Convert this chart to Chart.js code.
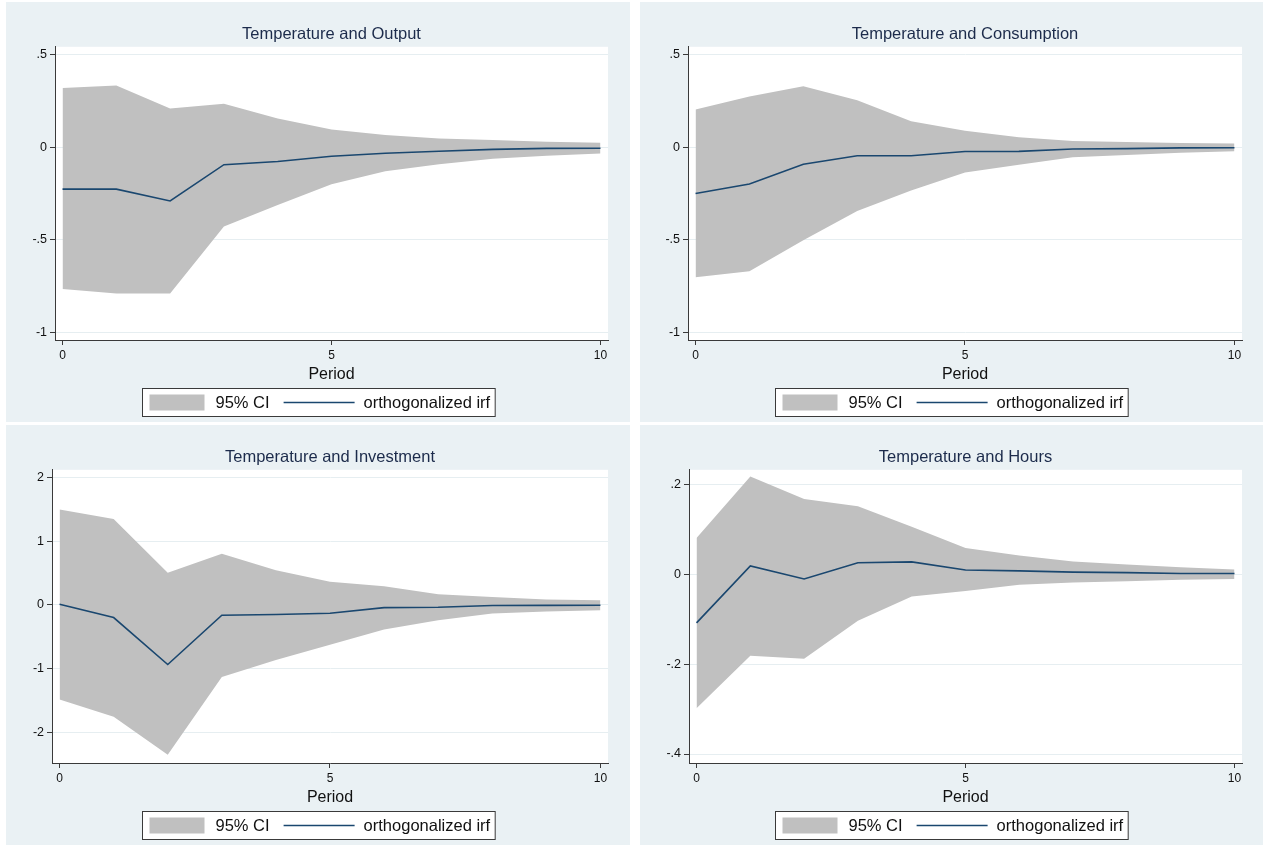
<!DOCTYPE html>
<html>
<head>
<meta charset="utf-8">
<script src="https://cdn.jsdelivr.net/npm/chart.js@4.4.0/dist/chart.umd.min.js"></script>
<style>
  body { margin: 0; background: #fff; width: 1270px; height: 846px; position: relative; overflow: hidden; }
  canvas { position: absolute; }
</style>
</head>
<body>
<canvas id="output" width="624" height="420" style="left:6px;top:2px"></canvas>
<canvas id="consumption" width="623" height="420" style="left:640px;top:2px"></canvas>
<canvas id="investment" width="624" height="420" style="left:6px;top:425px"></canvas>
<canvas id="hours" width="623" height="420" style="left:640px;top:425px"></canvas>
<script>
// Impulse responses of temperature shock, periods 0..10
const periods = [0, 1, 2, 3, 4, 5, 6, 7, 8, 9, 10];

const outputIrf   = [-0.226, -0.226, -0.29, -0.094, -0.077, -0.048, -0.032, -0.021, -0.011, -0.006, -0.005];
const outputUpper = [0.32, 0.334, 0.209, 0.236, 0.155, 0.096, 0.066, 0.048, 0.04, 0.03, 0.025];
const outputLower = [-0.766, -0.79, -0.79, -0.428, -0.312, -0.2, -0.13, -0.091, -0.062, -0.046, -0.034];

const consumptionIrf   = [-0.25, -0.198, -0.091, -0.046, -0.046, -0.023, -0.022, -0.009, -0.007, -0.003, -0.002];
const consumptionUpper = [0.204, 0.275, 0.33, 0.254, 0.141, 0.089, 0.054, 0.034, 0.029, 0.023, 0.02];
const consumptionLower = [-0.702, -0.67, -0.502, -0.344, -0.234, -0.136, -0.094, -0.054, -0.041, -0.03, -0.021];

const investmentIrf   = [0.01, -0.197, -0.933, -0.161, -0.15, -0.13, -0.041, -0.036, -0.008, -0.006, -0.005];
const investmentUpper = [1.497, 1.347, 0.503, 0.803, 0.544, 0.363, 0.295, 0.166, 0.124, 0.085, 0.073];
const investmentLower = [-1.482, -1.751, -2.347, -1.13, -0.86, -0.622, -0.383, -0.238, -0.135, -0.104, -0.083];

const hoursIrf   = [-0.108, 0.019, -0.01, 0.026, 0.028, 0.01, 0.008, 0.005, 0.004, 0.002, 0.002];
const hoursUpper = [0.081, 0.218, 0.168, 0.152, 0.106, 0.059, 0.042, 0.029, 0.022, 0.016, 0.011];
const hoursLower = [-0.298, -0.181, -0.188, -0.103, -0.049, -0.037, -0.023, -0.018, -0.015, -0.012, -0.01];

// Tick labels
const xTicks = [0, 5, 10];
const yTicksSmall = [0.5, 0, -0.5, -1];
const yTicksInvestment = [2, 1, 0, -1, -2];
const yTicksHours = [0.2, 0, -0.2, -0.4];

const xTitle = 'Period';
const legendLabels = ['95% CI', 'orthogonalized irf'];

const FONT = "'Liberation Sans', Arial, sans-serif";
const PANEL_BG = '#eaf1f4';
const CI_COLOR = '#c0c0c0';
const IRF_COLOR = '#1a476f';
const AXIS_COLOR = '#3a3a3a';
const GRID_COLOR = '#e6eef1';
const AREA_BOTTOM = 338;

// Stata-style labels: .5, -.5, 0
function stataNum(v) {
  if (v === 0) return '0';
  const s = String(Math.abs(Math.round(v * 1000) / 1000)).replace(/^0\./, '.');
  return (v < 0 ? '-' : '') + s;
}

function toPoints(values) {
  return periods.map((p, i) => ({ x: p, y: values[i] }));
}

// Panel and plot-region background
const panelBackground = {
  id: 'panelBackground',
  beforeDraw(chart) {
    const { ctx, chartArea: a } = chart;
    ctx.save();
    ctx.fillStyle = PANEL_BG;
    ctx.fillRect(0, 0, chart.width, chart.height);
    ctx.fillStyle = '#fff';
    ctx.fillRect(a.left, a.top, a.right - a.left, a.bottom - a.top);
    ctx.restore();
  }
};

// Boxed legend under the axis title, centred on the panel
const stataLegend = {
  id: 'stataLegend',
  afterDraw(chart) {
    const ctx = chart.ctx;
    ctx.save();
    ctx.font = '16.5px ' + FONT;
    const w1 = ctx.measureText(legendLabels[0]).width;
    const w2 = ctx.measureText(legendLabels[1]).width;
    const sw = 55, ln = 71;
    const bw = 7 + sw + 11 + w1 + 14 + ln + 9 + w2 + 5;
    const bx = Math.round((chart.width - bw) / 2) + 0.5;
    const by = 386.5, bh = 28;
    ctx.fillStyle = '#fff';
    ctx.fillRect(bx, by, bw, bh);
    ctx.strokeStyle = AXIS_COLOR;
    ctx.lineWidth = 1;
    ctx.strokeRect(bx, by, bw, bh);
    let x = bx + 7;
    ctx.fillStyle = CI_COLOR;
    ctx.fillRect(x, by + 6, sw, bh - 12);
    x += sw + 11;
    ctx.fillStyle = '#111';
    ctx.textBaseline = 'middle';
    ctx.fillText(legendLabels[0], x, by + bh / 2 + 1);
    x += w1 + 14;
    ctx.strokeStyle = IRF_COLOR;
    ctx.lineWidth = 1.5;
    ctx.beginPath();
    ctx.moveTo(x, by + bh / 2);
    ctx.lineTo(x + ln, by + bh / 2);
    ctx.stroke();
    x += ln + 9;
    ctx.fillText(legendLabels[1], x, by + bh / 2 + 1);
    ctx.restore();
  }
};

function createIrfChart(id, title, irf, upper, lower, yTicks, yMin, yMax, areaLeft, areaRight) {
  const canvas = document.getElementById(id);
  return new Chart(canvas.getContext('2d'), {
    type: 'line',
    data: {
      datasets: [
        {
          label: 'upper',
          data: toPoints(upper),
          borderWidth: 0,
          pointRadius: 0,
          backgroundColor: CI_COLOR,
          fill: '+1',
          order: 2
        },
        {
          label: 'lower',
          data: toPoints(lower),
          borderWidth: 0,
          pointRadius: 0,
          backgroundColor: CI_COLOR,
          fill: false,
          order: 2
        },
        {
          label: 'irf',
          data: toPoints(irf),
          borderColor: IRF_COLOR,
          borderWidth: 1.6,
          pointRadius: 0,
          tension: 0,
          fill: false,
          order: 0
        }
      ]
    },
    options: {
      responsive: false,
      animation: false,
      layout: { padding: { left: 0, top: 0, bottom: 0, right: canvas.width - areaRight } },
      plugins: {
        legend: { display: false },
        tooltip: { enabled: false },
        title: {
          display: true,
          text: title,
          fullSize: false,
          color: '#1c2b4b',
          font: { family: FONT, size: 16.5, weight: 'normal' },
          padding: { top: 23, bottom: 2 }
        }
      },
      scales: {
        x: {
          type: 'linear',
          min: -0.14,
          max: 10.14,
          afterBuildTicks: s => { s.ticks = xTicks.map(v => ({ value: v })); },
          afterFit: s => { s.height = canvas.height - AREA_BOTTOM; },
          grid: { color: 'rgba(0,0,0,0)', tickColor: AXIS_COLOR, tickLength: 5 },
          border: { color: AXIS_COLOR, width: 1 },
          ticks: { padding: 3, color: '#111', maxRotation: 0, font: { family: FONT, size: 12 }, callback: v => stataNum(v) },
          title: {
            display: true,
            text: xTitle,
            color: '#111',
            font: { family: FONT, size: 16 },
            padding: { top: 0, bottom: 38 }
          }
        },
        y: {
          min: yMin,
          max: yMax,
          afterBuildTicks: s => { s.ticks = yTicks.map(v => ({ value: v })); },
          afterFit: s => { s.width = areaLeft; },
          grid: { color: GRID_COLOR, lineWidth: 1, tickColor: AXIS_COLOR, tickLength: 5 },
          border: { color: AXIS_COLOR, width: 1 },
          ticks: { padding: 3, color: '#111', font: { family: FONT, size: 12.5 }, callback: v => stataNum(v) }
        }
      }
    },
    plugins: [panelBackground, stataLegend]
  });
}

createIrfChart('output', 'Temperature and Output', outputIrf, outputUpper, outputLower,
  yTicksSmall, -1.041, 0.543, 49, 602);
createIrfChart('consumption', 'Temperature and Consumption', consumptionIrf, consumptionUpper, consumptionLower,
  yTicksSmall, -1.041, 0.543, 48, 602);
createIrfChart('investment', 'Temperature and Investment', investmentIrf, investmentUpper, investmentLower,
  yTicksInvestment, -2.475, 2.117, 46, 602);
createIrfChart('hours', 'Temperature and Hours', hoursIrf, hoursUpper, hoursLower,
  yTicksHours, -0.42, 0.233, 49, 602);
</script>
</body>
</html>
